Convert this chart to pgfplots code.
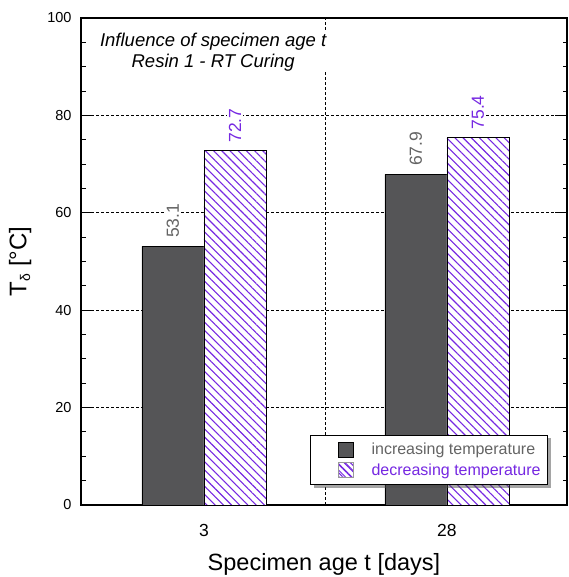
\documentclass[border=0pt]{standalone}
\usepackage{pgfplots}
\pgfplotsset{compat=1.18}
\usepackage{fontspec}
\setmainfont{Liberation Sans}
\usetikzlibrary{patterns.meta,shadows}
\definecolor{bardark}{RGB}{85,85,87}
\definecolor{hatchcol}{RGB}{118,40,226}
\definecolor{lblgrey}{RGB}{100,100,100}
% keep the legend box shadow off the legend symbols
\makeatletter
\tikzset{noshadow/.code={\let\tikz@preactions\pgfutil@empty}}
\makeatother

\begin{document}
\begin{tikzpicture}
\useasboundingbox (0pt,0pt) rectangle (568pt,577pt);
\begin{axis}[
  at={(81pt,72pt)}, anchor=south west,
  width=486pt, height=487pt, scale only axis,
  xmin=-0.506, xmax=1.494, ymin=0, ymax=100,
  xtick={0,1}, xticklabels={3,28},
  minor xtick={0.5},
  ytick={0,20,...,100}, minor ytick={0,5,...,100},
  tick align=inside,
  xtick style={draw=none},
  ytick pos=both, xtick pos=bottom,
  major tick length=12pt, minor tick length=4.5pt,
  every tick/.style={black, line width=0.9pt},
  axis line style={line width=1.2pt},
  xminorgrids, ymajorgrids,
  grid style={black, line width=0.8pt, dash pattern=on 3pt off 2pt},
  /pgf/number format/assume math mode=true,
  /pgf/number format/fixed,
  /pgf/number format/fixed zerofill,
  /pgf/number format/precision=1,
  yticklabel style={font=\fontsize{14.5}{14.5}\selectfont, xshift=-6pt,
    /pgf/number format/precision=0, /pgf/number format/fixed zerofill=false},
  xticklabel style={font=\fontsize{17.5}{17.5}\selectfont, yshift=-4pt},
  ylabel={T\textsubscript{\fontsize{14}{14}\selectfont δ} [°C]},
  ylabel style={font=\fontsize{24}{24}\selectfont, at={(axis description cs:-0.095,0.5)}},
  xlabel={Specimen age t [days]},
  xlabel style={font=\fontsize{23.5}{23.5}\selectfont, yshift=-10pt},
  ybar, bar width=62pt,
  nodes near coords,
  nodes near coords style={rotate=90, anchor=west, fill=white, inner sep=2pt,
    xshift=6pt, font=\fontsize{17.5}{17.5}\selectfont},
  legend style={at={(axis description cs:1,0)}, anchor=south east,
    xshift=-19pt, yshift=20pt, draw=black, line width=0.9pt, fill=white,
    drop shadow={shadow xshift=3pt, shadow yshift=-3pt, fill=black!70},
    font=\fontsize{16}{16}\selectfont, inner xsep=5pt, inner ysep=6pt,
    row sep=3pt, cells={anchor=west}},
  legend cell align=left,
]
% rising temperature
\addplot[bar shift=-31pt, fill=bardark, draw=black, line width=0.9pt,
  nodes near coords style={text=lblgrey},
  legend image code/.code={\path[noshadow] (0pt,0pt);
    \path[noshadow, fill=bardark] (22pt,-7.5pt) rectangle (37pt,7.5pt);}]
  coordinates {(0,53.1) (1,67.9)};
\addlegendentry{\hspace{16pt}\textcolor{lblgrey}{increasing temperature}}
% falling temperature
\addplot[bar shift=31pt, fill=white, draw=black, line width=0.9pt,
  postaction={pattern={Lines[angle=-45, distance=5.8pt, line width=1.1pt]}, pattern color=hatchcol},
  nodes near coords style={text=hatchcol},
  legend image code/.code={\path[noshadow] (0pt,0pt);
    \path[noshadow, fill=white, draw=black!40, line width=0.5pt,
    postaction={pattern={Lines[angle=-45, distance=4.5pt, line width=1pt]}, pattern color=hatchcol}]
    (22pt,-7.5pt) rectangle (37pt,7.5pt);}]
  coordinates {(0,72.7) (1,75.4)};
\addlegendentry{\hspace{16pt}\textcolor{hatchcol}{decreasing temperature}}
\node[align=center, font=\itshape\fontsize{18.5}{21}\selectfont, anchor=north,
  fill=white, inner sep=1pt]
  at (rel axis cs:0.272,1) [yshift=-14pt] {Influence of specimen age t\\Resin 1 - RT Curing};
\end{axis}
\end{tikzpicture}
\end{document}
